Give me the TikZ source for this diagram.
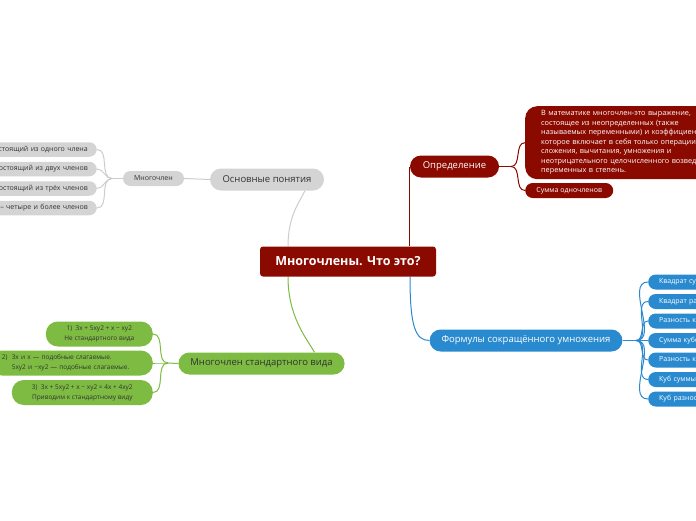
\documentclass[tikz,border=0pt]{standalone}
\usepackage{fontspec}
\setmainfont{Open Sans}
\usepackage{tikz}
\usetikzlibrary{positioning, backgrounds}
\definecolor{darkred}{HTML}{8B0A00}
\definecolor{mapblue}{HTML}{2A8AD0}
\definecolor{mapgreen}{HTML}{7DBB42}
\definecolor{mapgrey}{HTML}{D4D4D4}
\definecolor{greyline}{HTML}{CCCCCC}
\definecolor{darktext}{HTML}{333333}
\tikzstyle{central} = [rectangle, rounded corners=3pt, minimum width=176pt, minimum height=30pt, fill=darkred, text=white, font=\fontsize{12.5}{14}\selectfont\bfseries]
\tikzstyle{topic} = [rectangle, rounded corners=11pt, minimum height=22pt, inner xsep=12pt, font=\fontsize{9.5}{11}\selectfont]
\tikzstyle{leaf} = [rectangle, rounded corners=7.5pt, minimum height=15pt, font=\fontsize{7}{8.5}\selectfont]
\tikzstyle{redtopic} = [topic, fill=darkred, text=white]
\tikzstyle{greytopic} = [topic, fill=mapgrey, text=darktext]
\tikzstyle{bluetopic} = [topic, fill=mapblue, text=white]
\tikzstyle{greentopic} = [topic, fill=mapgreen, text=darktext]
\tikzstyle{greyleaf} = [leaf, fill=mapgrey, text=darktext]
\tikzstyle{blueleaf} = [leaf, fill=mapblue, text=white, anchor=west, text width=100pt, align=left, inner xsep=11pt]
\tikzstyle{greenleaf} = [rectangle, rounded corners=12pt, minimum height=25pt, fill=mapgreen, text=darktext, font=\fontsize{6.5}{10}\selectfont, align=center, anchor=east]
\tikzstyle{redline} = [draw=darkred, line width=1pt]
\tikzstyle{greyedge} = [draw=greyline, line width=1pt]
\tikzstyle{blueline} = [draw=mapblue, line width=1pt]
\tikzstyle{greenline} = [draw=mapgreen, line width=1pt]

\begin{document}
\begin{tikzpicture}[x=1pt, y=-1pt]

\useasboundingbox (0,0) rectangle (696,520);
\clip (0,0) rectangle (696,520);

\node (root) [central] at (348,261.5) {Многочлены. Что это?};

% Определение
\node (def) [redtopic, minimum width=89pt] at (454.5,166.5) {Определение};
\node (defbox) [rectangle, rounded corners=12pt, fill=darkred, text=white, anchor=north west, text width=200pt, inner xsep=16pt, inner ysep=4.5pt, minimum height=72pt, align=left, font=\fontsize{7.3}{9.5}\selectfont] at (525,106) {В математике многочлен-это выражение,\\состоящее из неопределенных (также\\называемых переменными) и коэффициентов,\\которое включает в себя только операции\\сложения, вычитания, умножения и\\неотрицательного целочисленного возведения\\переменных в степень.};
\node (sum) [leaf, fill=darkred, text=white, minimum width=88pt, anchor=west] at (525,190.5) {Сумма одночленов};
\coordinate (defJ) at (511,166.5);

% Основные понятия
\node (basic) [greytopic, minimum width=114pt] at (267,179.5) {Основные понятия};
\node (poly) [greyleaf, minimum width=61pt] at (153.5,178.5) {Многочлен};
\coordinate (polyJ) at (112,178.5);
\foreach \y/\txt [count=\i] in {149.5/состоящий из одного члена, 169/состоящий из двух членов, 188.5/состоящий из трёх членов, 208/-- четыре и более членов}
  \node (term\i) [greyleaf, anchor=east, text width=180pt, align=right, inner xsep=9pt, minimum height=14.5pt] at (97,\y) {\txt};

% Формулы
\node (form) [bluetopic, minimum width=192pt] at (526,340.5) {Формулы сокращённого умножения};
\coordinate (formJ) at (636,340.5);
\foreach \y/\txt [count=\i] in {282/Квадрат суммы, 301.5/Квадрат разности, 321/Разность квадратов, 340.5/Сумма кубов, 360/Разность кубов, 379.5/Куб суммы, 399/Куб разности}
  \node (f\i) [blueleaf] at (648,\y) {\txt};

% Многочлен стандартного вида
\node (std) [greentopic, minimum width=165pt] at (261.5,363.5) {Многочлен стандартного вида};
\coordinate (stdJ) at (168,363);
\node (ex1) [greenleaf, minimum width=107pt] at (153,334) {1)\ \ 3x + 5xy2 + x − xy2\\Не стандартного вида};
\node (ex2) [greenleaf, text width=139pt, inner xsep=12pt, align=left] at (153,363) {2)\ \ 3x и x — подобные слагаемые.\\\hspace*{10pt}5xy2 и −xy2 — подобные слагаемые.};
\node (ex3) [greenleaf, minimum width=141pt] at (153,392.5) {3)\ \ 3x + 5xy2 + x − xy2 = 4x + 4xy2\\Приводим к стандартному виду};

\begin{scope}[on background layer]
\draw [redline] (root.north -| def.west) -- (def.west);
\draw [greyedge] ([xshift=-60pt]root.north) .. controls +(0,-30) and +(-6,12) .. ([xshift=38pt]basic.south);
\draw [greenline] ([xshift=-60pt]root.south) .. controls +(0,40) and +(-8,-14) .. ([xshift=53pt]std.north);
\draw [blueline] ([xshift=62pt]root.south) .. controls +(0,50) and +(-14,0) .. (form.west);

\draw [redline] (def.east) -- (defJ);
\draw [redline] (defJ) to[out=0, in=180] (defbox.west);
\draw [redline] (defJ) to[out=0, in=180] (sum.west);

\draw [greyedge] (basic.west) -- (poly.east);
\draw [greyedge] (poly.west) -- (polyJ);
\foreach \i in {1,...,4}
  \draw [greyedge] (polyJ) to[out=180, in=0] (term\i.east);

\draw [blueline] (form.east) -- (formJ);
\foreach \i in {1,...,7}
  \draw [blueline] (formJ) to[out=0, in=180] (f\i.west);

\draw [greenline] (std.west) -- (stdJ);
\foreach \i in {1,...,3}
  \draw [greenline] (stdJ) to[out=180, in=0] (ex\i.east);
\end{scope}

\end{tikzpicture}
\end{document}
